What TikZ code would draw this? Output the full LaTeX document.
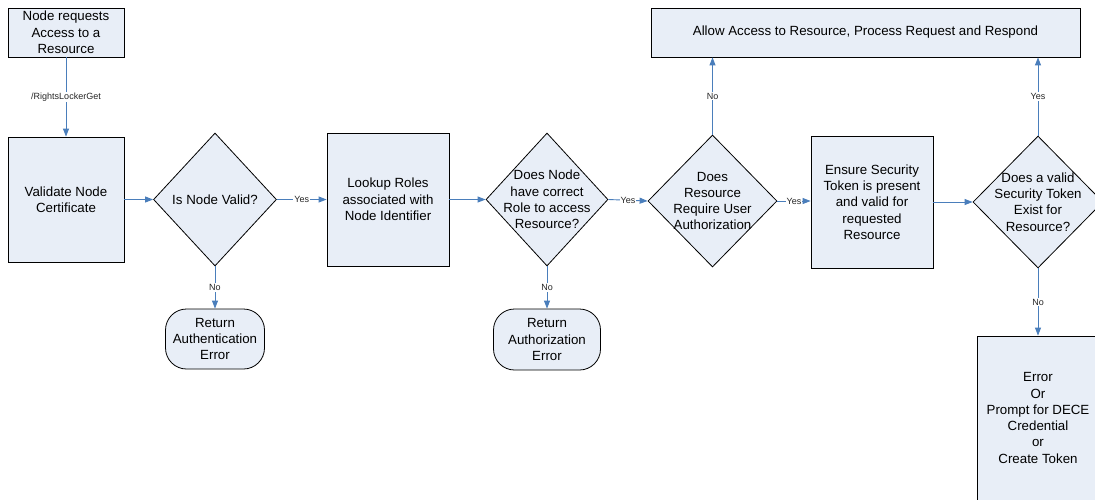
\documentclass[tikz,border=0pt]{standalone}
\usepackage{fontspec}
\setmainfont{Liberation Sans}
\usetikzlibrary{shapes.geometric,arrows.meta}
\definecolor{boxfill}{HTML}{E8EEF7}
\definecolor{linkblue}{HTML}{4A7EBB}
\begin{document}
\begin{tikzpicture}[x=1pt,y=-1pt,
  box/.style={draw=black,fill=boxfill,line width=0.8pt,align=center,
    font=\fontsize{13.3}{16.3}\selectfont,inner sep=0pt},
  dia/.style={diamond,draw=black,fill=boxfill,line width=0.8pt,inner sep=0pt},
  term/.style={box,rounded corners=21pt},
  txt/.style={align=center,font=\fontsize{13.3}{16.3}\selectfont,inner sep=0pt},
  arr/.style={draw=linkblue,line width=0.9pt,-{Triangle[length=8pt,width=6pt]}},
  lbl/.style={fill=white,inner sep=1pt,font=\fontsize{9}{10}\selectfont,text=black!85}]
\useasboundingbox (0,0) rectangle (1095,499);
\clip (0,0) rectangle (1095,499);

% nodes
\node[box,minimum width=116pt,minimum height=49pt] (start) at (66,32.5)
  {Node requests\\Access to a\\Resource};
\node[box,minimum width=116pt,minimum height=125pt] (val) at (66,199.5)
  {Validate Node\\Certificate};
\node[dia,minimum width=123pt,minimum height=133pt] (d1) at (215,199.5) {};
\node[txt] (d1t) at (d1) {Is Node Valid?};
\node[box,minimum width=122pt,minimum height=133pt] (look) at (388,199.5)
  {Lookup Roles\\associated with\\Node Identifier};
\node[dia,minimum width=122pt,minimum height=133pt] (d2) at (547,199.5) {};
\node[txt] (d2t) at (d2) {Does Node\\have correct\\Role to access\\Resource?};
\node[dia,minimum width=129pt,minimum height=132pt] (d3) at (712.5,201) {};
\node[txt] (d3t) at (d3) {Does\\Resource\\Require User\\Authorization};
\node[box,minimum width=122pt,minimum height=132pt] (ens) at (872,202)
  {Ensure Security\\Token is present\\and valid for\\requested\\Resource};
\node[dia,minimum width=130pt,minimum height=132pt] (d4) at (1038,202) {};
\node[txt] (d4t) at (d4) {Does a valid\\Security Token\\Exist for\\Resource?};
\node[box,minimum width=429pt,minimum height=49pt] (allow) at (865.5,32.5)
  {Allow Access to Resource, Process Request and Respond};
\node[term,minimum width=99pt,minimum height=60pt] (t1) at (215,339)
  {Return\\Authentication\\Error};
\node[term,minimum width=107pt,minimum height=61pt] (t2) at (547,339.5)
  {Return\\Authorization\\Error};
\node[box,minimum width=122pt,minimum height=164pt] (fin) at (1038,418)
  {Error\\Or\\Prompt for DECE\\Credential\\or\\Create Token};

% connectors
\draw[arr] (start) -- node[lbl]{/RightsLockerGet} (val);
\draw[arr] (val.east) -- (d1.west);
\draw[arr] (d1.east) -- node[lbl]{Yes} (look.west);
\draw[arr] (d1.south) -- node[lbl]{No} (t1.north);
\draw[arr] (look.east) -- (d2.west);
\draw[arr] (d2.east) -- node[lbl]{Yes} (d3.west);
\draw[arr] (d2.south) -- node[lbl]{No} (t2.north);
\draw[arr] (d3.east) -- node[lbl]{Yes} (ens.west |- d3.east);
\draw[arr] (d3.north) -- node[lbl]{No} (d3.north |- allow.south);
\draw[arr] (ens.east) -- (d4.west);
\draw[arr] (d4.north) -- node[lbl]{Yes} (d4.north |- allow.south);
\draw[arr] (d4.south) -- node[lbl]{No} (fin.north);
\end{tikzpicture}
\end{document}
